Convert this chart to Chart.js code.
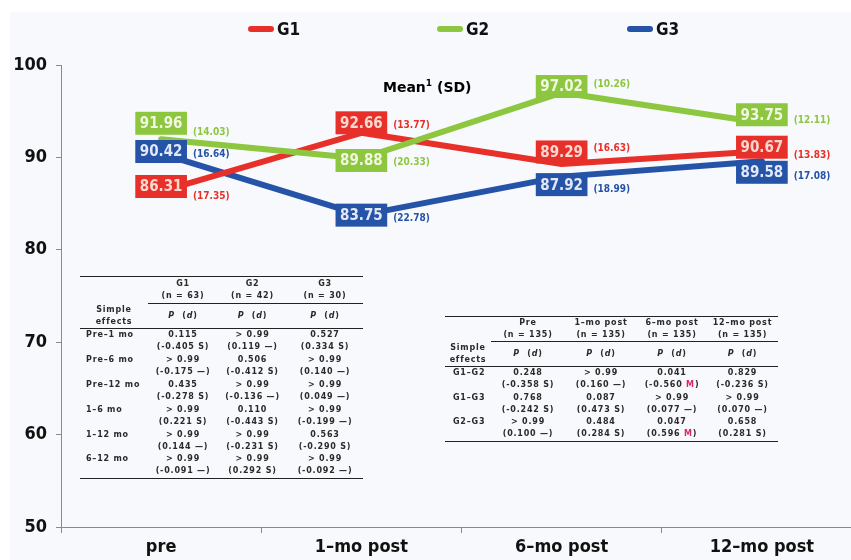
<!DOCTYPE html>
<html>
<head>
<meta charset="utf-8">
<script src="https://cdn.jsdelivr.net/npm/chart.js@4.4.0/dist/chart.umd.min.js"></script>
<style>
html,body{margin:0;padding:0;background:#ffffff;overflow:hidden}
#wrap{position:relative;width:851px;height:560px;overflow:hidden;background:#ffffff}
#bg{position:absolute;left:10px;top:12px;right:0;bottom:0;background:#f8f9fc}
#chart{position:absolute;left:0;top:0}
.lg{position:absolute;top:19px;font:bold 17px "DejaVu Sans Condensed","DejaVu Sans",sans-serif;color:#111;white-space:nowrap}
.lg span{display:inline-block;width:26px;height:6px;border-radius:3px;vertical-align:middle;margin-right:3px;position:relative;top:-1px}
#ttl{position:absolute;left:383px;top:78px;font:bold 14px "DejaVu Sans",sans-serif;color:#000}
#ttl sup{font-size:9px}
table.st{position:absolute;border-collapse:collapse;table-layout:fixed;font:bold 8px "DejaVu Sans",sans-serif;letter-spacing:0.8px;color:#2a2a2a}
table.st td{padding:0;text-align:center;line-height:12px;vertical-align:middle;white-space:nowrap}
table.st td.lab{text-align:left}
table.st tr.top td{border-top:1.5px solid #222}
table.st tr.top td.u{border-bottom:1px solid #222}
table.st tr.sub td{border-bottom:1px solid #222}
table.st tr.last td{border-bottom:1.5px solid #222}
table.st .m{color:#e0245e}
</style>
</head>
<body>
<div id="wrap">
<div id="bg"></div>
<canvas id="chart" width="862" height="560"></canvas>
<div id="ttl">Mean<sup>1</sup> (SD)</div>
</div>
<script>
// chart data
const categories = ['pre','1–mo post','6–mo post','12–mo post'];
const seriesNames = ['G1','G2','G3'];
const g1Mean = [86.31, 92.66, 89.29, 90.67];
const g2Mean = [91.96, 89.88, 97.02, 93.75];
const g3Mean = [90.42, 83.75, 87.92, 89.58];
const g1Sd = [17.35, 13.77, 16.63, 13.83];
const g2Sd = [14.03, 20.33, 10.26, 12.11];
const g3Sd = [16.64, 22.78, 18.99, 17.08];
const yTicks = [50, 60, 70, 80, 90, 100];

// table 1: within-group simple effects
const withinHeads = ['G1','G2','G3'];
const withinN = [63, 42, 30];
const withinRows = ['Pre–1 mo','Pre–6 mo','Pre–12 mo','1–6 mo','1–12 mo','6–12 mo'];
const withinP = [
  ['0.115','> 0.99','0.527'],
  ['> 0.99','0.506','> 0.99'],
  ['0.435','> 0.99','> 0.99'],
  ['> 0.99','0.110','> 0.99'],
  ['> 0.99','> 0.99','0.563'],
  ['> 0.99','> 0.99','> 0.99']
];
const withinD = [
  ['-0.405 S','0.119 —','0.334 S'],
  ['-0.175 —','-0.412 S','0.140 —'],
  ['-0.278 S','-0.136 —','0.049 —'],
  ['0.221 S','-0.443 S','-0.199 —'],
  ['0.144 —','-0.231 S','-0.290 S'],
  ['-0.091 —','0.292 S','-0.092 —']
];

// table 2: between-group simple effects
const betweenHeads = ['Pre','1–mo post','6–mo post','12–mo post'];
const betweenN = [135, 135, 135, 135];
const betweenRows = ['G1–G2','G1–G3','G2–G3'];
const betweenP = [
  ['0.248','> 0.99','0.041','0.829'],
  ['0.768','0.087','> 0.99','> 0.99'],
  ['> 0.99','0.484','0.047','0.658']
];
const betweenD = [
  ['-0.358 S','0.160 —','-0.560 M','-0.236 S'],
  ['-0.242 S','0.473 S','0.077 —','0.070 —'],
  ['0.100 —','0.284 S','0.596 M','0.281 S']
];

// styling / label placement
const colors = ['#e8302a','#8dc63f','#2553a7'];
const boxTextColors = ['#f7d9d0','#f1f7e0','#e3e8f6'];
const boxDy = [[-5,-10,-12,-4],[-16,2,-6,-8],[-2,0,8,11]];
const sdDy = [[10,3,-4,8],[9,2,-2,6],[3,3,5,4]];
const legendX = [248, 437, 627];
const axisFont = {family:'"DejaVu Sans Condensed","DejaVu Sans",sans-serif', size:18, weight:'bold'};

const means = [g1Mean, g2Mean, g3Mean];
const sds = [g1Sd, g2Sd, g3Sd];

const boxPlugin = {
  id:'boxes',
  afterDatasetsDraw(chart){
    const ctx = chart.ctx;
    ctx.save();
    chart.data.datasets.forEach((ds,i)=>{
      const meta = chart.getDatasetMeta(i);
      meta.data.forEach((pt,j)=>{
        const x = pt.x, y = pt.y + boxDy[i][j];
        ctx.font = 'bold 15px "DejaVu Sans Condensed","DejaVu Sans",sans-serif';
        const txt = ds.data[j].toFixed(2);
        const w = ctx.measureText(txt).width + 9, h = 23;
        ctx.fillStyle = ds.borderColor;
        ctx.fillRect(x-w/2, y-h/2, w, h);
        ctx.fillStyle = boxTextColors[i];
        ctx.textAlign = 'center';
        ctx.textBaseline = 'middle';
        ctx.fillText(txt, x, y+1);
        ctx.font = 'bold 10px "DejaVu Sans Condensed","DejaVu Sans",sans-serif';
        ctx.textAlign = 'left';
        ctx.fillStyle = ds.borderColor;
        ctx.fillText('(' + sds[i][j].toFixed(2) + ')', x + w/2 + 6, y + sdDy[i][j]);
      });
    });
    ctx.restore();
  }
};

const ctx = document.getElementById('chart').getContext('2d');
const chart = new Chart(ctx,{
  type:'line',
  data:{
    labels:categories,
    datasets:seriesNames.map((n,i)=>({label:n,data:means[i],borderColor:colors[i],backgroundColor:colors[i],order:[1,0,2][i]}))
  },
  options:{
    responsive:false,
    animation:false,
    layout:{padding:{top:65,left:0,right:0,bottom:0}},
    plugins:{legend:{display:false},tooltip:{enabled:false}},
    elements:{line:{borderWidth:6,tension:0,borderCapStyle:'round',borderJoinStyle:'round'},point:{radius:0}},
    scales:{
      x:{
        offset:true,
        grid:{offset:true,drawOnChartArea:false,tickLength:6,color:'#8a8a8a'},
        border:{color:'#8a8a8a'},
        ticks:{font:axisFont,color:'#111',padding:4},
        afterFit(s){s.height=33;}
      },
      y:{
        min:50,max:100,
        afterBuildTicks(s){s.ticks=yTicks.map(v=>({value:v}));},
        grid:{drawOnChartArea:false,tickLength:5,color:'#8a8a8a'},
        border:{color:'#8a8a8a'},
        ticks:{font:axisFont,color:'#111',padding:9},
        afterFit(s){s.width=61;}
      }
    }
  },
  plugins:[boxPlugin]
});

// legend
const wrap = document.getElementById('wrap');
chart.data.datasets.forEach((ds,i)=>{
  const d = document.createElement('div');
  d.className = 'lg';
  d.style.left = legendX[i] + 'px';
  d.innerHTML = `<span style="background:${ds.borderColor}"></span>${ds.label}`;
  wrap.appendChild(d);
});

function effect(s){
  return '(' + s.replace(/ M$/, ' <span class="m">M</span>') + ')';
}

function buildTable(opt){
  const t = document.createElement('table');
  t.className = 'st';
  t.style.left = opt.left + 'px';
  t.style.top = opt.top + 'px';
  let html = '<colgroup>' + opt.widths.map(w=>`<col style="width:${w}px">`).join('') + '</colgroup>';
  html += `<tr class="top" style="height:${opt.h0}px"><td></td>` +
    opt.heads.map((h,k)=>`<td class="u">${h}<br>(n = ${opt.ns[k]})</td>`).join('') + '</tr>';
  html += `<tr class="sub" style="height:24px"><td>Simple<br>effects</td>` +
    opt.heads.map(()=>'<td><i>P</i> &nbsp;(<i>d</i>)</td>').join('') + '</tr>';
  opt.rows.forEach((r,ri)=>{
    const cls = ri === opt.rows.length-1 ? ' class="last"' : '';
    html += `<tr${cls} style="height:25px"><td class="lab" style="padding-left:${opt.pad}px">${r}<br>&nbsp;</td>` +
      opt.p[ri].map((p,k)=>`<td>${p}<br>${effect(opt.d[ri][k])}</td>`).join('') + '</tr>';
  });
  t.innerHTML = html;
  t.style.width = opt.widths.reduce((a,b)=>a+b,0) + 'px';
  wrap.appendChild(t);
}

buildTable({left:80, top:276, widths:[68,70,69,76], h0:27, pad:6,
  heads:withinHeads, ns:withinN, rows:withinRows, p:withinP, d:withinD});
buildTable({left:445, top:316, widths:[46,74,72,70,71], h0:25, pad:8,
  heads:betweenHeads, ns:betweenN, rows:betweenRows, p:betweenP, d:betweenD});
</script>
</body>
</html>
